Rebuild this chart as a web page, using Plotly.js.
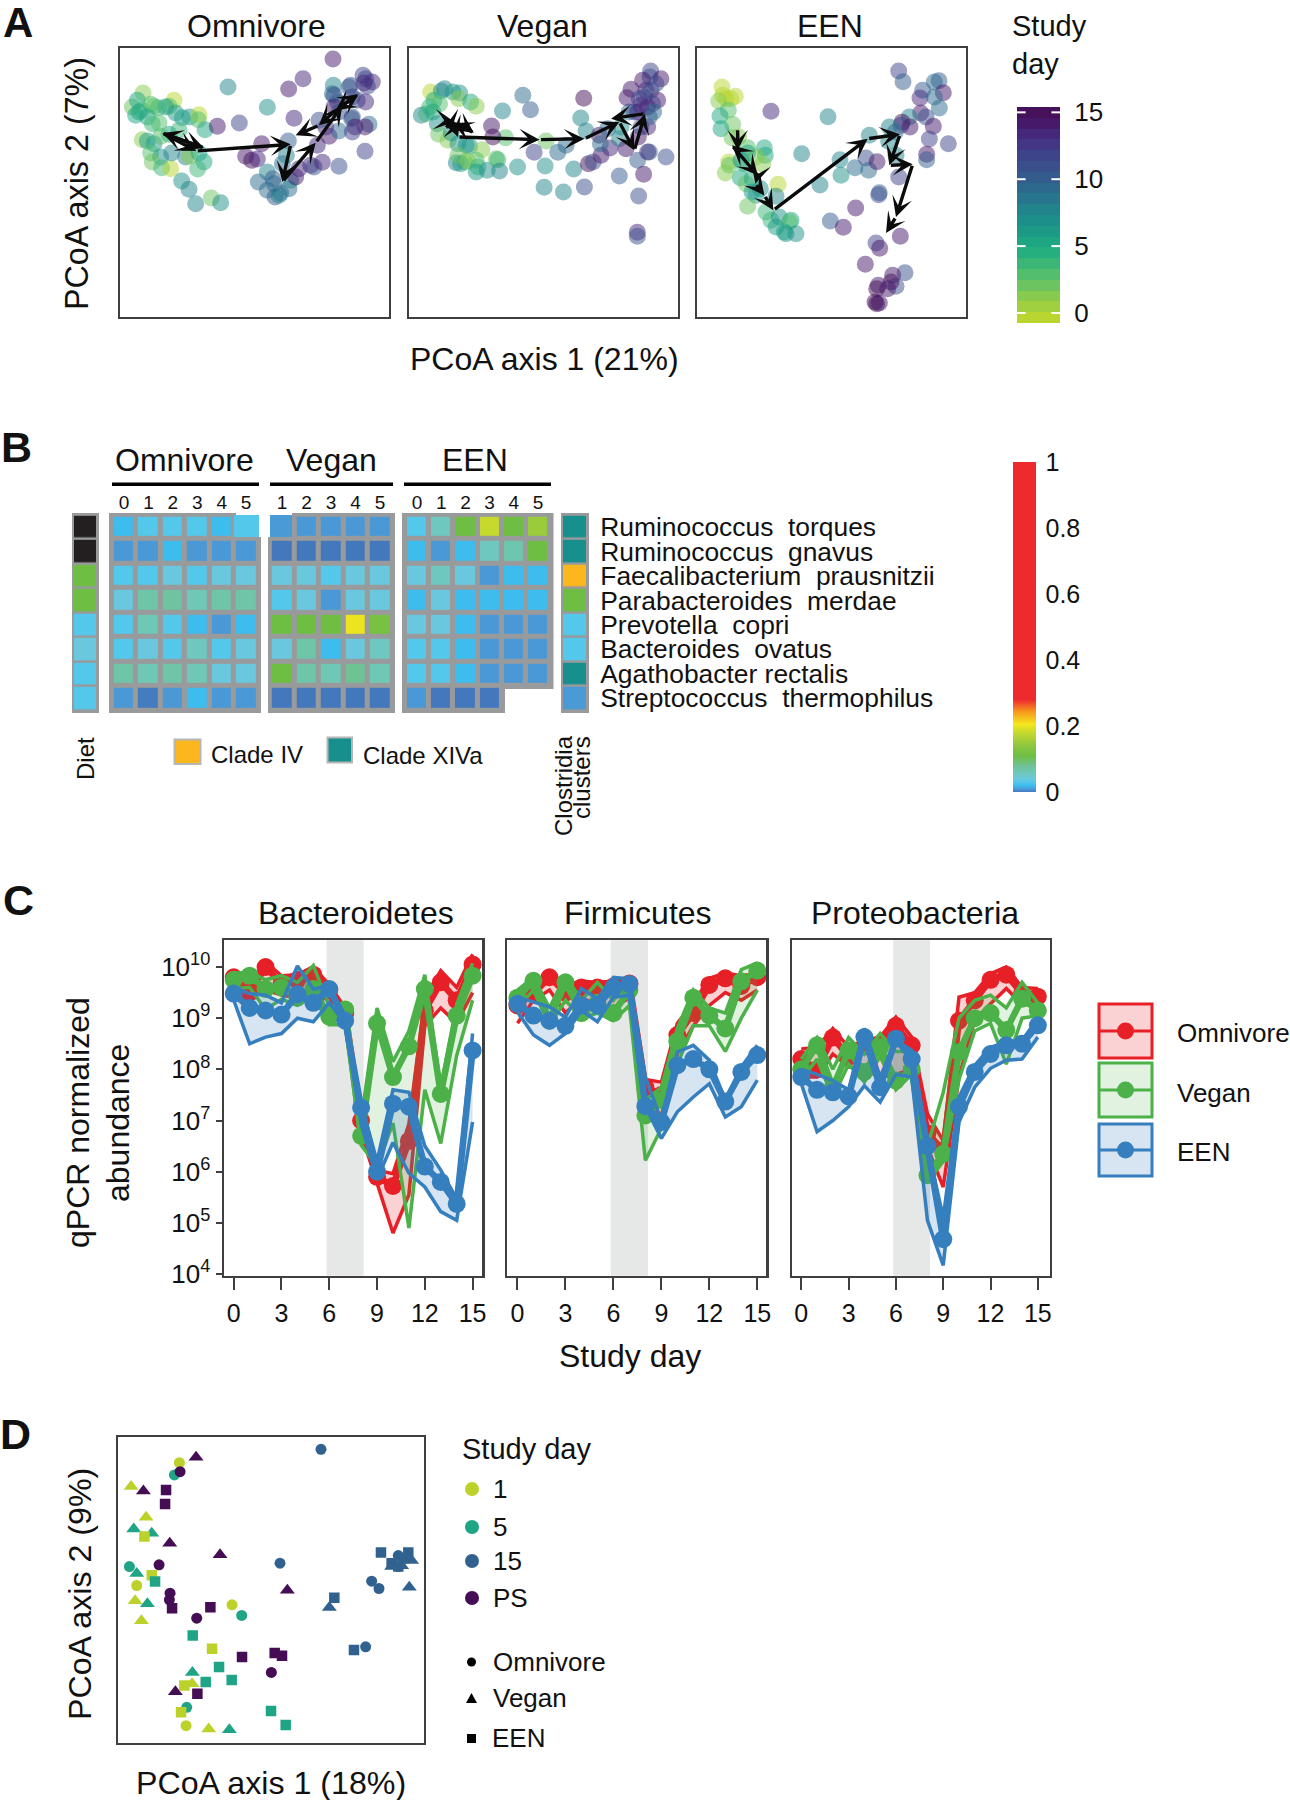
<!DOCTYPE html>
<html><head><meta charset="utf-8">
<script src="https://cdn.plot.ly/plotly-3.0.1.min.js"></script>
<style>html,body{margin:0;padding:0;background:#fff}</style></head>
<body><div id="chart" style="width:1290px;height:1800px"></div>
<script>
// ---------- Panel A data: [axis1, axis2, study day] ----------
const omnivorePoints=[[72,138,1],[40,180,2],[55,160,5],[50,205,5],[68,190,4],[105,178,2],[165,160,0],[150,178,3],[140,180,6],[118,182,4],[95,172,3],[85,210,5],[100,230,4],[60,195,5],[170,198,6],[190,212,6],[212,210,6],[240,203,0],[238,218,3],[258,248,5],[180,250,4],[150,262,5],[70,278,1],[85,282,6],[105,290,6],[125,268,3],[95,318,3],[125,330,7],[100,345,2],[128,362,4],[155,365,0],[158,318,8],[200,330,8],[212,328,1],[240,318,5],[255,345,5],[236,366,4],[188,402,7],[210,427,8],[230,470,8],[277,453,2],[305,467,7],[120,228,3],[327,120,8],[445,181,7],[295,238,14],[361,228,12],[428,290,14],[380,328,14],[398,340,15],[415,336,13],[509,126,14],[552,95,13],[525,214,13],[508,282,10],[445,375,8],[418,405,9],[462,395,10],[490,350,9],[502,325,8],[445,430,9],[468,450,10],[485,438,9],[480,445,8],[510,425,9],[465,410,9],[515,400,8],[530,390,14],[540,365,13],[575,355,13],[585,360,11],[610,346,13],[660,358,11],[595,295,13],[630,268,14],[660,252,9],[642,36,14],[643,115,8],[640,140,9],[645,145,11],[655,165,10],[645,180,14],[695,115,11],[690,120,10],[732,85,12],[740,95,12],[760,105,13],[745,118,12],[735,108,13],[700,150,12],[715,160,11],[740,165,13],[700,210,11],[698,215,10],[750,232,9],[738,240,14],[708,240,14],[700,255,12],[738,313,12],[660,195,11],[620,240,13],[600,220,11]];
const veganPoints=[[68,135,0],[100,132,7],[110,125,8],[135,135,6],[155,138,7],[152,155,1],[188,165,5],[205,178,1],[78,160,5],[65,180,4],[95,170,3],[40,205,8],[55,200,4],[75,195,5],[88,230,7],[92,262,2],[120,280,1],[130,258,7],[150,290,7],[175,295,7],[185,298,6],[222,308,1],[205,340,3],[170,345,3],[145,347,8],[158,350,6],[180,342,1],[150,325,2],[210,360,4],[205,375,6],[238,370,7],[265,335,2],[270,338,4],[275,372,8],[293,272,3],[415,282,2],[329,360,7],[284,192,8],[345,145,9],[368,188,10],[251,237,14],[255,270,15],[379,316,12],[412,357,7],[409,421,8],[467,435,8],[498,366,8],[530,420,11],[450,316,9],[475,295,9],[519,213,8],[535,252,8],[528,154,15],[542,350,15],[556,345,11],[580,325,14],[607,303,13],[575,265,14],[578,290,9],[635,275,8],[600,245,9],[640,240,7],[655,305,14],[690,340,10],[635,387,10],[708,382,14],[693,447,11],[689,556,13],[689,568,11],[775,330,11],[720,315,13],[725,315,11],[692,270,14],[680,195,12],[665,195,9],[700,240,11],[720,240,13],[725,210,10],[729,72,12],[727,90,11],[705,100,14],[760,95,14],[745,110,12],[670,127,14],[658,152,14],[715,130,13],[710,150,12],[730,130,11],[750,160,14],[735,170,12],[695,155,12],[700,175,13],[690,195,13],[720,180,13],[738,195,9]];
const eenPoints=[[78,120,0],[80,145,0],[90,155,0],[105,155,0],[118,148,0],[68,162,1],[97,190,3],[72,207,5],[110,232,2],[75,245,5],[128,270,1],[108,272,2],[155,302,3],[205,302,5],[208,325,5],[180,330,1],[155,318,5],[200,352,1],[98,345,0],[100,355,3],[88,378,1],[135,340,7],[145,350,4],[225,193,13],[396,209,8],[317,320,8],[432,338,8],[477,362,9],[510,333,11],[518,370,9],[543,344,14],[435,385,7],[372,414,8],[133,392,5],[150,410,2],[168,395,5],[246,412,0],[193,425,7],[168,435,6],[240,448,8],[180,445,6],[155,478,2],[210,495,4],[225,520,4],[250,510,7],[285,520,5],[280,525,3],[240,540,6],[265,555,5],[270,560,6],[300,560,7],[550,437,10],[548,443,11],[479,483,14],[403,522,10],[442,541,14],[540,588,12],[613,568,14],[551,604,14],[508,652,14],[627,677,11],[590,685,14],[600,718,11],[585,705,15],[547,715,14],[542,725,15],[575,725,14],[542,770,15],[550,768,14],[537,765,15],[608,72,12],[621,104,10],[729,101,10],[715,105,9],[680,130,10],[742,137,14],[672,153,13],[715,150,9],[730,183,9],[674,198,14],[690,210,11],[712,238,14],[700,276,12],[757,290,12],[640,210,8],[618,226,15],[615,235,12],[642,240,14],[580,240,8],[598,255,9],[520,265,8],[578,283,8],[600,325,8],[692,322,14],[692,338,10],[608,390,12]];
const omnivorePath=[[128,232],[122,240],[136,246],[118,250],[130,258],[255,303],[130,258],[232,312],[515,292],[490,405],[590,287],[670,175],[718,142],[650,190],[600,235],[530,265]];
const veganPath=[[105,220],[140,225],[110,240],[165,235],[198,257],[135,228],[150,270],[395,278],[530,275],[635,225],[680,310],[712,200],[610,215]];
const eenPath=[[125,245],[125,310],[108,295],[185,385],[178,410],[205,445],[232,490],[515,275],[612,262],[580,355],[650,352],[600,510],[570,558]];
const studyDayTicks=[0,5,10,15];
const viridisBands=['#b8d62f','#a0d040','#86cb4d','#6bc45f','#53bf6c','#3cb677','#25ae7e','#1ea582','#1c9a86','#1d8f8a','#21838c','#27768d','#2c698d','#335c8d','#39508c','#3e4489','#423685','#45287c','#46196b','#46105a'];

// ---------- Panel B data ----------
const species=['Ruminococcus\u00a0 torques','Ruminococcus\u00a0 gnavus','Faecalibacterium\u00a0 prausnitzii','Parabacteroides\u00a0 merdae','Prevotella\u00a0 copri','Bacteroides\u00a0 ovatus','Agathobacter rectalis','Streptococcus\u00a0 thermophilus'];
const omnivoreWeeks=[0,1,2,3,4,5], veganWeeks=[1,2,3,4,5], eenWeeks=[0,1,2,3,4,5];
const omnivoreHeat=[[.02,.03,.03,.03,.02,.03],[.008,.008,.02,.008,.008,.008],[.03,.03,.04,.03,.04,.04],[.04,.07,.075,.06,.07,.07],[.03,.06,.03,.02,.008,.02],[.03,.04,.03,.055,.03,.04],[.07,.06,.07,.06,.04,.04],[.008,.001,.008,.02,.008,.008]];
const veganHeat=[[.008,.008,.008,.008,.008],[0,0,0,0,0],[.04,.04,.03,.04,.04],[.03,.04,.008,.04,.04],[.11,.11,.11,.2,.12],[.04,.07,.02,.04,.055],[.11,.07,.06,.08,.06],[0,0,0,0,0]];
const eenHeat=[[.03,.055,.11,.18,.11,.15],[.02,.008,.02,.055,.065,.11],[.04,.055,.04,.008,.02,.02],[.02,.04,.02,.02,.02,.02],[.04,.04,.02,.008,.008,.008],[.03,.03,.02,.008,.008,.008],[.03,.03,.02,.008,.008,.008],[.008,0,0,0,null,null]];
const dietRow=[0,0,1,1,2,3,2,2];
const dietColors=['#231f20','#6fbe44','#53c8ea','#6ac8de'];
const cladeRow=[0,0,1,2,3,3,0,4];
const cladeColors=['#168f8d','#fdb71e','#6fbe44','#53c8ea','#4a9ad6'];
const heatStops=[[0,'#4478bd'],[.008,'#4a98d5'],[.02,'#3dbdee'],[.03,'#53c8ea'],[.04,'#6ac8de'],[.06,'#6fc8b5'],[.075,'#6fc3a0'],[.11,'#6fbe44'],[.14,'#8cc63f'],[.18,'#c6d92d'],[.205,'#f3e81c'],[.245,'#f7941d'],[.28,'#ed2a2e'],[1,'#ed2a2e']];

// ---------- Panel C data: log10 of normalized abundance per study day ----------
const days=[0,1,2,3,4,5,6,7,8,9,10,11,12,13,14,15];
const bactOmnMed=[9.8,9.5,10.0,9.67,9.75,9.85,9.55,9.1,7.0,5.9,5.72,6.6,9.15,9.7,9.35,10.05];
const bactOmnUp=[9.93,9.65,10.1,9.83,9.85,10.0,9.65,9.2,7.13,6.03,5.96,6.93,9.4,9.93,9.6,10.25];
const bactOmnLow=[9.6,9.45,9.55,9.45,9.4,9.3,9.42,8.85,6.75,5.75,4.8,5.55,8.85,9.2,8.9,9.5];
const bactVegMed=[9.75,9.83,9.57,9.6,9.4,9.57,9.03,9.17,6.7,8.9,7.85,8.45,9.57,7.52,9.05,9.83];
const bactVegUp=[9.88,9.9,9.75,9.83,9.7,10.03,9.23,9.27,7.0,9.2,8.15,8.75,9.85,7.65,9.27,10.07];
const bactVegLow=[9.58,9.6,9.17,9.37,9.25,9.45,8.87,8.87,6.52,6.1,6.95,4.9,7.6,6.55,8.27,9.35];
const bactEenMed=[9.48,9.2,9.15,9.07,9.47,9.3,9.57,8.95,7.25,6.0,7.33,7.27,6.1,5.8,5.37,8.37];
const bactEenUp=[9.6,9.48,9.45,9.3,10.02,9.57,9.63,9.05,7.33,6.2,7.6,7.55,6.5,6.03,5.47,8.7];
const bactEenLow=[9.35,8.5,8.63,8.7,9.0,8.93,9.3,8.9,6.93,5.85,6.57,5.97,5.7,5.22,5.05,6.97];
const firmOmnMed=[9.25,9.48,9.8,9.5,9.6,9.6,9.62,9.68,7.65,7.5,8.67,9.1,9.65,9.78,9.63,9.8];
const firmOmnUp=[9.5,9.58,9.9,9.65,9.72,9.7,9.72,9.75,7.8,7.75,8.9,9.3,9.78,9.88,9.83,9.88];
const firmOmnLow=[8.9,9.35,9.55,9.1,9.4,9.25,9.2,9.4,7.25,7.1,8.3,8.85,9.25,9.5,9.35,9.55];
const firmVegMed=[9.4,9.73,8.95,9.7,9.1,9.3,9.1,9.55,7.1,7.4,8.55,9.4,9.05,8.8,9.72,9.93];
const firmVegUp=[9.55,9.8,9.2,9.83,9.35,9.7,9.35,9.7,7.4,7.65,8.8,9.55,9.2,9.1,9.95,10.08];
const firmVegLow=[9.2,9.55,8.85,9.35,9.0,9.1,8.95,9.25,6.22,6.85,8.1,8.85,8.85,8.35,9.0,9.55];
const firmEenMed=[9.28,9.05,8.95,8.85,9.25,9.25,9.6,9.67,7.28,6.97,8.08,8.2,8.0,7.37,7.95,8.28];
const firmEenUp=[9.41,9.32,9.22,9.02,9.58,9.38,9.8,9.77,7.85,7.0,8.34,8.47,8.18,7.4,8.05,8.47];
const firmEenLow=[9.12,8.67,8.47,8.7,9.15,8.93,9.41,9.45,7.27,6.65,7.17,7.46,7.72,7.07,7.27,7.79];
const protOmnMed=[8.2,8.0,8.62,8.25,8.45,8.5,8.85,8.47,6.75,6.42,8.95,9.35,9.75,9.85,9.48,9.42];
const protOmnUp=[8.4,8.43,8.8,8.43,8.57,8.63,9.02,8.63,7.13,6.6,9.41,9.5,9.87,10.0,9.6,9.58];
const protOmnLow=[7.85,7.85,8.3,8.05,8.0,7.85,7.9,8.0,6.48,5.7,7.85,8.96,9.28,9.58,9.27,9.25];
const protVegMed=[8.0,8.47,7.65,8.37,7.95,8.43,7.78,8.0,5.93,6.35,8.34,9.0,9.1,8.77,9.38,9.15];
const protVegUp=[8.2,8.62,8.0,8.62,8.3,8.7,8.35,8.35,6.5,7.55,9.0,9.35,9.45,9.2,9.7,9.3];
const protVegLow=[7.8,8.2,7.45,8.1,7.75,8.25,7.6,7.9,5.8,6.2,7.8,8.75,8.9,8.1,9.0,9.05];
const protEenMed=[7.85,7.6,7.55,7.47,8.63,7.65,8.6,8.2,6.5,4.68,7.27,7.95,8.3,8.47,8.5,8.86];
const protEenUp=[8.0,7.9,7.78,7.6,8.8,7.85,8.57,8.37,6.5,5.1,7.46,8.08,8.43,8.53,8.57,8.99];
const protEenLow=[7.72,6.78,7.0,7.27,7.68,7.36,7.9,7.85,5.05,4.17,6.97,7.65,8.02,8.18,8.2,8.63];
const dayTicks=[0,3,6,9,12,15];
const abundanceTicks=[4,5,6,7,8,9,10];

// ---------- Panel D data: [axis1, axis2, study day] ----------
const dOmnivore=[[813,118,'15'],[690,460,'15'],[965,514,'15'],[987,536,'15'],[947,711,'15'],[1045,437,'15'],[1045,470,'15'],[388,158,'1'],[260,527,'1'],[546,585,'1'],[408,948,'1'],[373,195,'5'],[238,470,'5'],[575,617,'5'],[410,893,'5'],[390,185,'PS'],[327,465,'PS'],[360,550,'PS'],[358,570,'PS'],[440,625,'PS'],[664,788,'PS']];
const dVegan=[[243,230,'1'],[288,322,'1'],[255,573,'1'],[274,633,'1'],[426,822,'1'],[476,958,'1'],[251,357,'5'],[305,370,'5'],[260,491,'5'],[292,582,'5'],[427,788,'5'],[538,960,'5'],[438,142,'PS'],[280,243,'PS'],[359,400,'PS'],[510,435,'PS'],[712,541,'PS'],[376,846,'PS'],[1085,452,'15'],[1078,532,'15'],[838,593,'15'],[1025,470,'15'],[1055,468,'15']];
const dEen=[[283,380,'1'],[305,496,'1'],[486,717,'1'],[403,827,'1'],[393,908,'1'],[315,515,'5'],[428,677,'5'],[507,772,'5'],[467,817,'5'],[545,811,'5'],[663,904,'5'],[707,946,'5'],[348,240,'PS'],[345,282,'PS'],[366,595,'PS'],[481,592,'PS'],[576,742,'PS'],[674,730,'PS'],[696,738,'PS'],[442,852,'PS'],[993,428,'15'],[1075,428,'15'],[1025,460,'15'],[1045,470,'15'],[853,564,'15'],[912,721,'15'],[1062,445,'15']];
const dDayColors={'1':'#bcd22b','5':'#20a486','15':'#31628f','PS':'#440d54'};
const dDayNames=['1','5','15','PS'];
const dietNames=['Omnivore','Vegan','EEN'];

// ---------- Helpers ----------
const W=1290,H=1800,FONT='"Liberation Sans", Arial, sans-serif',INK='#111',BOX='#3f3f3f';
const fx=p=>p/W, fy=p=>1-p/H;
const traces=[],annotations=[],shapes=[];
const layout={width:W,height:H,margin:{l:0,r:0,t:0,b:0,pad:0,autoexpand:false},paper_bgcolor:'#fff',plot_bgcolor:'rgba(0,0,0,0)',showlegend:false,font:{family:FONT,color:INK},annotations,shapes};
function axes(n,x0,x1,y0,y1,xo,yo){
  const s=n===1?'':n;
  layout['xaxis'+s]=Object.assign({domain:[fx(x0),fx(x1)],anchor:'y'+s,showgrid:false,zeroline:false,showticklabels:false,ticks:'',fixedrange:true},xo);
  layout['yaxis'+s]=Object.assign({domain:[fy(y1),fy(y0)],anchor:'x'+s,showgrid:false,zeroline:false,showticklabels:false,ticks:'',fixedrange:true},yo);
}
const boxed=(w)=>({showline:true,mirror:true,linecolor:BOX,linewidth:w});
function text(t,x,y,size,o){annotations.push(Object.assign({text:t,xref:'paper',yref:'paper',x:fx(x),y:fy(y),xanchor:'center',yanchor:'middle',showarrow:false,font:{size:size,family:FONT,color:INK}},o||{}));}
const rot={textangle:-90};
function rect(x0,y0,x1,y1,fill,lineColor,lw){shapes.push({type:'rect',xref:'paper',yref:'paper',x0:fx(x0),x1:fx(x1),y0:fy(y0),y1:fy(y1),fillcolor:fill,line:{color:lineColor||'rgba(0,0,0,0)',width:lineColor?lw:0},layer:'above'});}

// ---------- Panel A ----------
const bandStep=(15.4+0.75)/viridisBands.length;
const stepped=[];viridisBands.forEach((c,i)=>{stepped.push([i/viridisBands.length,c]);stepped.push([(i+1)/viridisBands.length,c]);});
layout.coloraxis={cmin:-0.75,cmax:15.4,colorscale:stepped,showscale:false};
[[omnivorePoints,omnivorePath,120,389],[veganPoints,veganPath,409,677.6],[eenPoints,eenPath,697,966]].forEach((d,i)=>{
  const n=i+1,s=n===1?'':n;
  axes(n,d[2],d[3],48,317,Object.assign({range:[3,810]},boxed(2)),Object.assign({range:[810,3]},boxed(2)));
  traces.push({type:'scatter',mode:'markers',xaxis:'x'+s,yaxis:'y'+s,name:dietNames[i],x:d[0].map(p=>p[0]),y:d[0].map(p=>p[1]),marker:{size:17,opacity:.5,color:d[0].map(p=>p[2]),coloraxis:'coloraxis',line:{width:0}}});
  for(let k=1;k<d[1].length;k++){annotations.push({xref:'x'+s,yref:'y'+s,axref:'x'+s,ayref:'y'+s,x:d[1][k][0],y:d[1][k][1],ax:d[1][k-1][0],ay:d[1][k-1][1],text:'',showarrow:true,arrowhead:3,arrowsize:1,arrowwidth:3.4,arrowcolor:'#0b0b0b',standoff:0,startstandoff:0});}
});
axes(13,1017,1060,107,323,{range:[-.5,.5]},{range:[-.75,15.4],side:'right',tickmode:'array',tickvals:studyDayTicks,ticktext:studyDayTicks.map(String),showticklabels:true,ticks:'outside',ticklen:8,tickcolor:'rgba(0,0,0,0)',tickfont:{size:26,family:FONT,color:INK}});
traces.push({type:'heatmap',xaxis:'x13',yaxis:'y13',x:[0],y:viridisBands.map((c,i)=>-0.75+(i+.5)*bandStep),z:viridisBands.map((c,i)=>[-0.75+(i+.5)*bandStep]),coloraxis:'coloraxis'});
studyDayTicks.forEach(v=>{[[-.5,-.3],[.3,.5]].forEach(e=>shapes.push({type:'line',xref:'x13',yref:'y13',x0:e[0],x1:e[1],y0:v,y1:v,line:{color:'#fff',width:2},layer:'above'}));});
text('Omnivore',256,26,32);text('Vegan',542,26,32);text('EEN',830,26,32);
text('Study<br>day',1010,45,29,{xanchor:'left',align:'left'});
text('PCoA axis 2 (7%)',77,184,32.3,rot);text('PCoA axis 1 (21%)',544,359,32);
text('<b>A</b>',18,22,42);

// ---------- Panel B ----------
layout.coloraxis2={cmin:0,cmax:1,colorscale:heatStops,colorbar:{x:fx(1013),xanchor:'left',y:fy(627),yanchor:'middle',thickness:23,thicknessmode:'pixels',len:330,lenmode:'pixels',xpad:0,ypad:0,outlinewidth:0,borderwidth:0,ticks:'outside',ticklen:5,tickcolor:'rgba(0,0,0,0)',tickmode:'array',tickvals:[0,.2,.4,.6,.8,1],ticktext:['0','0.2','0.4','0.6','0.8','1'],tickfont:{size:25,family:FONT,color:INK}}};
const rowIdx=species.map((s,i)=>i), yHeat={range:[7.61,-.574]};
[[omnivoreHeat,omnivoreWeeks,4,109,261,-.615,5.61],[veganHeat,veganWeeks,5,268,395,.429,5.61],[eenHeat,eenWeeks,6,402,553.5,-.62,5.64]].forEach(d=>{
  const n=d[2];
  shapes.push({type:'rect',xref:'x'+n+' domain',yref:'y'+n+' domain',x0:0,x1:1,y0:0,y1:1,fillcolor:'#999a9c',line:{width:0},layer:'below'});
  axes(n,d[3],d[4],513,713,{range:[d[5],d[6]],side:'top',tickmode:'array',tickvals:d[1],ticktext:d[1].map(String),showticklabels:true,ticks:'',ticklabelstandoff:-1,tickfont:{size:19,family:FONT,color:INK}},yHeat);
  traces.push({type:'heatmap',xaxis:'x'+n,yaxis:'y'+n,x:d[1],y:rowIdx,z:d[0],xgap:5,ygap:5,coloraxis:'coloraxis2',hoverongaps:false});
});
rect(236,512,262,537,'#fff');rect(234,515,259,537,'#53c8ea');
rect(267,512,292,537,'#fff');rect(270,515,292,537,'#4a9ad6');
rect(505,689,555,714,'#fff');
const catScale=(cols)=>{const o=[];cols.forEach((c,i)=>{o.push([i/cols.length,c]);o.push([(i+1)/cols.length,c]);});return o;};
[[dietRow,dietColors,7,72,99,{}],[cladeRow,cladeColors,8,561,589,{side:'right',tickmode:'array',tickvals:rowIdx,ticktext:species,showticklabels:true,ticks:'outside',ticklen:5,tickcolor:'rgba(0,0,0,0)',tickfont:{size:26.4,family:FONT,color:INK}}]].forEach(d=>{
  const n=d[2];
  shapes.push({type:'rect',xref:'x'+n+' domain',yref:'y'+n+' domain',x0:0,x1:1,y0:0,y1:1,fillcolor:'#999a9c',line:{width:0},layer:'below'});
  axes(n,d[3],d[4],513,713,{range:[-.5,.5]},Object.assign({},yHeat,d[5]));
  traces.push({type:'heatmap',xaxis:'x'+n,yaxis:'y'+n,x:[0],y:rowIdx,z:d[0].map(v=>[v]),xgap:5,ygap:2.5,zmin:-.5,zmax:d[1].length-.5,colorscale:catScale(d[1]),showscale:false});
});
text('Omnivore',184,460,32);text('Vegan',331,460,32);text('EEN',475,460,32);
[[112,259],[270,393],[404,551]].forEach(b=>rect(b[0],482.5,b[1],486,'#000'));
text('Diet',86,759,24,rot);
rect(174.5,739.5,200.5,764,'#fdb71e','#b5b6b8',2);text('Clade IV',209,754,24,{xanchor:'left'});
rect(327.5,737.5,352,762.5,'#168f8d','#b5b6b8',2);text('Clade XIVa',361,755,24,{xanchor:'left'});
text('Clostridia',563,786,24,rot);text('clusters',581,778,24,rot);
text('<b>B</b>',16,447,43);

// ---------- Panel C ----------
const palette=[['#e71f26','rgba(231,31,38,.2)'],['#4bb148','rgba(75,177,72,.17)'],['#357fbf','rgba(53,127,191,.2)']];
const to10=a=>a.map(v=>Math.pow(10,v));
const panelsC=[
 {n:9,x:[224,482],r:[-.61,15.59],s:[[bactOmnMed,bactOmnUp,bactOmnLow],[bactVegMed,bactVegUp,bactVegLow],[bactEenMed,bactEenUp,bactEenLow]],labels:true},
 {n:10,x:[507.25,766.25],r:[-.64,15.56],s:[[firmOmnMed,firmOmnUp,firmOmnLow],[firmVegMed,firmVegUp,firmVegLow],[firmEenMed,firmEenUp,firmEenLow]]},
 {n:11,x:[792,1049.5],r:[-.59,15.74],s:[[protOmnMed,protOmnUp,protOmnLow],[protVegMed,protVegUp,protVegLow],[protEenMed,protEenUp,protEenLow]]}];
panelsC.forEach(p=>{
  const X='x'+p.n,Y='y'+p.n;
  axes(p.n,p.x[0],p.x[1],940.25,1275.75,Object.assign({range:p.r,tickmode:'array',tickvals:dayTicks,ticktext:dayTicks.map(String),showticklabels:true,ticks:'outside',ticklen:12,ticklabelstandoff:2,tickwidth:2,tickcolor:BOX,tickfont:{size:25,family:FONT,color:INK}},boxed(2.5)),
    Object.assign({type:'log',range:[3.966,10.523]},boxed(2.5),p.labels?{tickmode:'array',tickvals:abundanceTicks.map(e=>Math.pow(10,e)),ticktext:abundanceTicks.map(e=>'10<sup>'+e+'</sup>'),showticklabels:true,ticks:'outside',ticklen:6,tickwidth:2,tickcolor:BOX,tickfont:{size:26,family:FONT,color:INK}}:{}));
  shapes.push({type:'rect',xref:X,yref:Y+' domain',x0:5.83,x1:8.16,y0:0,y1:1,fillcolor:'#e6e8e7',line:{width:0},layer:'below'});
  p.s.forEach((g,i)=>{
    traces.push({type:'scatter',mode:'lines',xaxis:X,yaxis:Y,x:days,y:to10(g[2]),line:{color:palette[i][0],width:3.5},name:dietNames[i]+' lower'});
    traces.push({type:'scatter',mode:'lines',xaxis:X,yaxis:Y,x:days,y:to10(g[1]),line:{color:palette[i][0],width:3.5},fill:'tonexty',fillcolor:palette[i][1],name:dietNames[i]+' upper'});
    traces.push({type:'scatter',mode:'lines+markers',xaxis:X,yaxis:Y,x:days,y:to10(g[0]),line:{color:palette[i][0],width:6.5},marker:{color:palette[i][0],size:18},name:dietNames[i]});
  });
});
text('Bacteroidetes',356,913,32);text('Firmicutes',638,913,32);text('Proteobacteria',915,913,32);
text('qPCR normalized',78,1123,32,rot);text('abundance',118,1123,32,rot);
text('Study day',630,1356,32);
[[1004,1058,1033],[1063,1117,1093],[1124,1176,1152]].forEach((b,i)=>{
  rect(1099,b[0],1152,b[1],palette[i][1],palette[i][0],3);
  shapes.push({type:'line',xref:'paper',yref:'paper',x0:fx(1099),x1:fx(1152),y0:fy((b[0]+b[1])/2),y1:fy((b[0]+b[1])/2),line:{color:palette[i][0],width:3},layer:'above'});
  const c=(b[0]+b[1])/2;
  shapes.push({type:'circle',xref:'paper',yref:'paper',x0:fx(1117),x1:fx(1134),y0:fy(c-8.5),y1:fy(c+8.5),fillcolor:palette[i][0],line:{width:0},layer:'above'});
  text(dietNames[i],1175,b[2],26,{xanchor:'left'});
});
text('<b>C</b>',18,900,43);

// ---------- Panel D ----------
axes(12,118,423.7,1437.25,1742.75,Object.assign({range:[203.75,1121.25]},boxed(2.5)),Object.assign({range:[999.25,81.75]},boxed(2.5)));
[[dOmnivore,'circle',11],[dVegan,'triangle-up',13],[dEen,'square',10.5]].forEach((d,i)=>{
  traces.push({type:'scatter',mode:'markers',xaxis:'x12',yaxis:'y12',name:dietNames[i],x:d[0].map(p=>p[0]),y:d[0].map(p=>p[1]),marker:{symbol:d[1],size:d[2],color:d[0].map(p=>dDayColors[p[2]]),line:{width:0}}});
});
text('PCoA axis 2 (9%)',80,1594,32.2,rot);text('PCoA axis 1 (18%)',271,1783,32.2);
text('Study day',460,1449,29,{xanchor:'left'});
[1489,1527,1561,1598].forEach((y,i)=>{
  shapes.push({type:'circle',xref:'paper',yref:'paper',x0:fx(465),x1:fx(479),y0:fy(y-7),y1:fy(y+7),fillcolor:dDayColors[dDayNames[i]],line:{width:0},layer:'above'});
  text(dDayNames[i],491,y,26,{xanchor:'left'});
});
shapes.push({type:'circle',xref:'paper',yref:'paper',x0:fx(467),x1:fx(476),y0:fy(1662-4.5),y1:fy(1662+4.5),fillcolor:'#000',line:{width:0},layer:'above'});
shapes.push({type:'path',xref:'paper',yref:'paper',path:`M ${fx(466)} ${fy(1703)} L ${fx(477)} ${fy(1703)} L ${fx(471.5)} ${fy(1693)} Z`,fillcolor:'#000',line:{width:0},layer:'above'});
rect(467,1734,476,1743,'#000');
text('Omnivore',491,1662,26,{xanchor:'left'});text('Vegan',491,1698,26,{xanchor:'left'});text('EEN',490,1738,26,{xanchor:'left'});
text('<b>D</b>',15,1434,43);

Plotly.newPlot('chart',traces,layout,{staticPlot:true,displayModeBar:false,responsive:false}).then(()=>{
  document.querySelectorAll('#chart svg text').forEach(t=>{if(!t.textContent.trim())t.remove();});
});
</script></body></html>
